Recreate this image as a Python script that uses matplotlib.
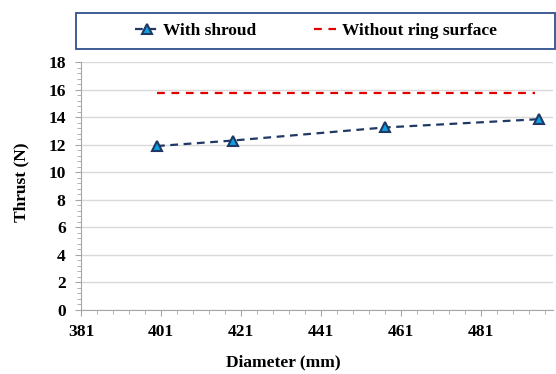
import matplotlib.pyplot as plt
from matplotlib.patches import Rectangle
from matplotlib.ticker import MultipleLocator

# 数据
diameter = [400, 419, 457, 495.5]
thrust_shroud = [11.9, 12.3, 13.25, 13.85]
ring_x = [400, 494.5]
ring_thrust = [15.75, 15.75]
x_ticks = [381, 401, 421, 441, 461, 481]

plt.rcParams['font.family'] = ['Liberation Serif', 'DejaVu Serif']
plt.rcParams['font.weight'] = 'bold'

fig = plt.figure(figsize=(5.56, 3.74), dpi=100)
ax = fig.add_axes([81/556, 1-310/374, (553-81)/556, (310-62)/374])

ax.plot(diameter, thrust_shroud, '--', color='#1F3864', lw=1.6, dashes=(3.5, 2.5),
        marker='^', ms=7.5, mfc='#0BA0E0', mec='#1F3864', mew=1.5, label='With shroud')
ax.plot(ring_x, ring_thrust, '--', color='#E00000', lw=1.6, dashes=(3.5, 3),
        label='Without ring surface')

ax.set_xlim(381, 499)
ax.set_ylim(0, 18)
ax.set_xticks(x_ticks)
ax.set_xticks(list(range(381, 500, 4)), minor=True)
ax.yaxis.set_major_locator(MultipleLocator(2))
ax.yaxis.set_minor_locator(MultipleLocator(0.4))
ax.grid(axis='y', which='major', color='#D9D9D9', lw=1)
ax.set_axisbelow(True)

for s in ['top', 'right']:
    ax.spines[s].set_visible(False)
for s in ['left', 'bottom']:
    ax.spines[s].set_color('#A6A6A6')

ax.tick_params(which='both', color='#A6A6A6', labelsize=12.5)
ax.tick_params(which='major', length=4, pad=6)
ax.tick_params(which='minor', length=3)
ax.tick_params(axis='y', which='major', pad=7)

ax.set_xlabel('Diameter (mm)', fontsize=12.5, fontweight='bold', va='center')
ax.xaxis.set_label_coords(0.428, -0.21)
ax.set_ylabel('Thrust (N)', fontsize=12.5, fontweight='bold', va='center')
ax.yaxis.set_label_coords(-0.127, 0.516)

# 图例框
fig.patches.append(Rectangle((76/556, 1-49/374), (555-76)/556, 36/374,
                             transform=fig.transFigure, fill=False,
                             edgecolor='#2F4F8F', lw=1.3))
fig.legend(loc='center', bbox_to_anchor=(316/556, 1-31/374), ncol=2, frameon=False,
           fontsize=12.5, handlelength=1.3, handletextpad=0.3, columnspacing=3.3)

plt.savefig('out.png', dpi=100)
